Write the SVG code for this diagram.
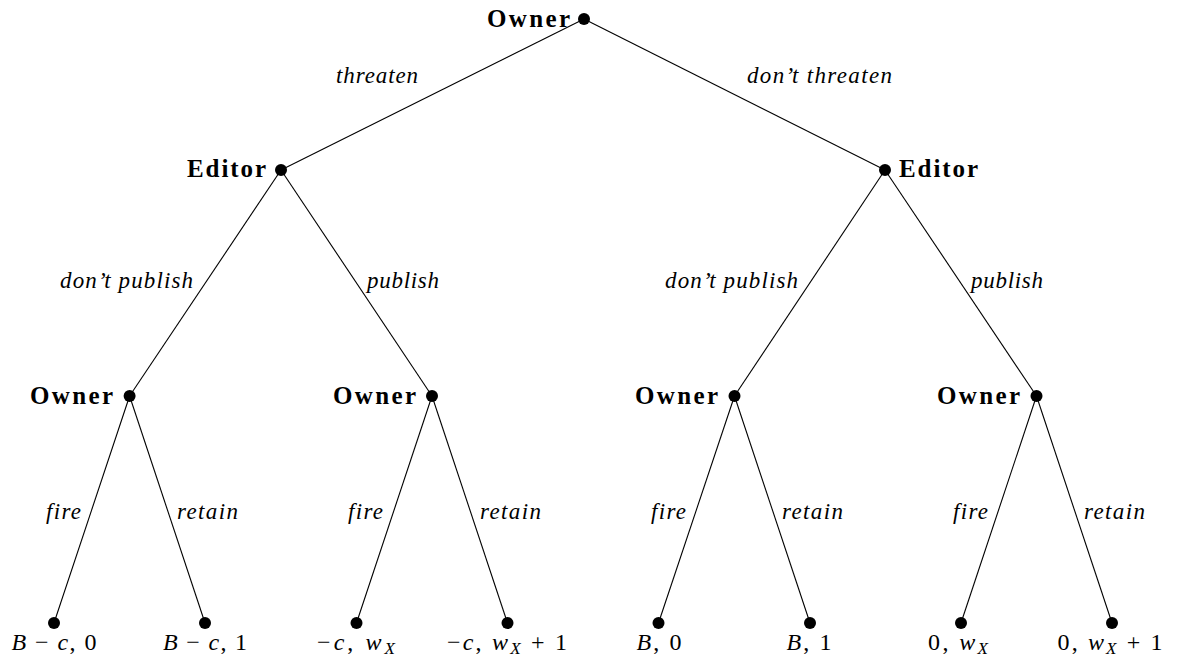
<svg xmlns="http://www.w3.org/2000/svg" width="1184" height="660" viewBox="0 0 1184 660">
<style>
.e{stroke:#000;stroke-width:1.1;fill:none}
.d{fill:#000}
.n{font-family:"Liberation Serif",serif;font-weight:bold;font-size:25px}
.l{font-family:"Liberation Serif",serif;font-style:italic;font-size:23px}
.p{font-family:"Liberation Serif",serif;font-size:24px;text-anchor:middle}
.i{font-style:italic}
.s{font-style:italic;font-size:17px}
</style>
<rect width="1184" height="660" fill="#fff"/>
<g id="connectors">
<line class="e" x1="584" y1="19" x2="281" y2="170"/>
<line class="e" x1="584" y1="19" x2="885" y2="170"/>
<line class="e" x1="281" y1="170" x2="129.6" y2="396"/>
<line class="e" x1="281" y1="170" x2="432" y2="396"/>
<line class="e" x1="885" y1="170" x2="734.5" y2="396"/>
<line class="e" x1="885" y1="170" x2="1036.5" y2="396"/>
<line class="e" x1="129.6" y1="396" x2="54" y2="623"/>
<line class="e" x1="129.6" y1="396" x2="205" y2="623"/>
<line class="e" x1="432" y1="396" x2="356.5" y2="623"/>
<line class="e" x1="432" y1="396" x2="507.5" y2="623"/>
<line class="e" x1="734.5" y1="396" x2="658.5" y2="623"/>
<line class="e" x1="734.5" y1="396" x2="810" y2="623"/>
<line class="e" x1="1036.5" y1="396" x2="961" y2="623"/>
<line class="e" x1="1036.5" y1="396" x2="1112" y2="623"/>
</g>
<g id="edge-labels">
<text class="l" x="418" y="83" text-anchor="end" textLength="82" lengthAdjust="spacing">threaten</text>
<text class="l" x="747" y="83" textLength="145" lengthAdjust="spacing">don’t threaten</text>
<text class="l" x="193" y="288" text-anchor="end" textLength="133" lengthAdjust="spacing">don’t publish</text>
<text class="l" x="367" y="288" textLength="72" lengthAdjust="spacing">publish</text>
<text class="l" x="798" y="288" text-anchor="end" textLength="133" lengthAdjust="spacing">don’t publish</text>
<text class="l" x="971" y="288" textLength="72" lengthAdjust="spacing">publish</text>
<text class="l" x="81" y="519" text-anchor="end" textLength="35" lengthAdjust="spacing">fire</text>
<text class="l" x="177" y="519" textLength="61" lengthAdjust="spacing">retain</text>
<text class="l" x="383" y="519" text-anchor="end" textLength="35" lengthAdjust="spacing">fire</text>
<text class="l" x="480" y="519" textLength="61" lengthAdjust="spacing">retain</text>
<text class="l" x="686" y="519" text-anchor="end" textLength="35" lengthAdjust="spacing">fire</text>
<text class="l" x="782" y="519" textLength="61" lengthAdjust="spacing">retain</text>
<text class="l" x="988" y="519" text-anchor="end" textLength="35" lengthAdjust="spacing">fire</text>
<text class="l" x="1084" y="519" textLength="61" lengthAdjust="spacing">retain</text>
</g>
<g id="root"><circle class="d" cx="584" cy="19" r="6"/><text class="n" x="570" y="27" text-anchor="end" textLength="83" lengthAdjust="spacing">Owner</text></g>
<g id="editor-left"><circle class="d" cx="281" cy="170" r="6"/><text class="n" x="266" y="177" text-anchor="end" textLength="79" lengthAdjust="spacing">Editor</text></g>
<g id="editor-right"><circle class="d" cx="885" cy="170" r="6"/><text class="n" x="899" y="177" textLength="79" lengthAdjust="spacing">Editor</text></g>
<g id="owner-1"><circle class="d" cx="129.6" cy="396" r="6"/><text class="n" x="113" y="404" text-anchor="end" textLength="83" lengthAdjust="spacing">Owner</text></g>
<g id="owner-2"><circle class="d" cx="432" cy="396" r="6"/><text class="n" x="416" y="404" text-anchor="end" textLength="83" lengthAdjust="spacing">Owner</text></g>
<g id="owner-3"><circle class="d" cx="734.5" cy="396" r="6"/><text class="n" x="718" y="404" text-anchor="end" textLength="83" lengthAdjust="spacing">Owner</text></g>
<g id="owner-4"><circle class="d" cx="1036.5" cy="396" r="6"/><text class="n" x="1020" y="404" text-anchor="end" textLength="83" lengthAdjust="spacing">Owner</text></g>
<g id="leaf-1"><circle class="d" cx="54" cy="623" r="6"/><text class="p" x="54" y="650" textLength="85" lengthAdjust="spacing"><tspan class="i">B</tspan> − <tspan class="i">c</tspan>, 0</text></g>
<g id="leaf-2"><circle class="d" cx="205" cy="623" r="6"/><text class="p" x="205" y="650" textLength="84" lengthAdjust="spacing"><tspan class="i">B</tspan> − <tspan class="i">c</tspan>, 1</text></g>
<g id="leaf-3"><circle class="d" cx="356.5" cy="623" r="6"/><text class="p" x="356" y="650" textLength="78" lengthAdjust="spacing">−<tspan class="i">c</tspan>, <tspan class="i">w</tspan><tspan class="s" dy="4">X</tspan></text></g>
<g id="leaf-4"><circle class="d" cx="507.5" cy="623" r="6"/><text class="p" x="507" y="650" textLength="120" lengthAdjust="spacing">−<tspan class="i">c</tspan>, <tspan class="i">w</tspan><tspan class="s" dy="4">X</tspan><tspan dy="-4"> + 1</tspan></text></g>
<g id="leaf-5"><circle class="d" cx="658.5" cy="623" r="6"/><text class="p" x="659" y="650" textLength="45" lengthAdjust="spacing"><tspan class="i">B</tspan>, 0</text></g>
<g id="leaf-6"><circle class="d" cx="810" cy="623" r="6"/><text class="p" x="809" y="650" textLength="45" lengthAdjust="spacing"><tspan class="i">B</tspan>, 1</text></g>
<g id="leaf-7"><circle class="d" cx="961" cy="623" r="6"/><text class="p" x="958" y="650" textLength="60" lengthAdjust="spacing">0, <tspan class="i">w</tspan><tspan class="s" dy="4">X</tspan></text></g>
<g id="leaf-8"><circle class="d" cx="1112" cy="623" r="6"/><text class="p" x="1110" y="650" textLength="105" lengthAdjust="spacing">0, <tspan class="i">w</tspan><tspan class="s" dy="4">X</tspan><tspan dy="-4"> + 1</tspan></text></g>
</svg>
